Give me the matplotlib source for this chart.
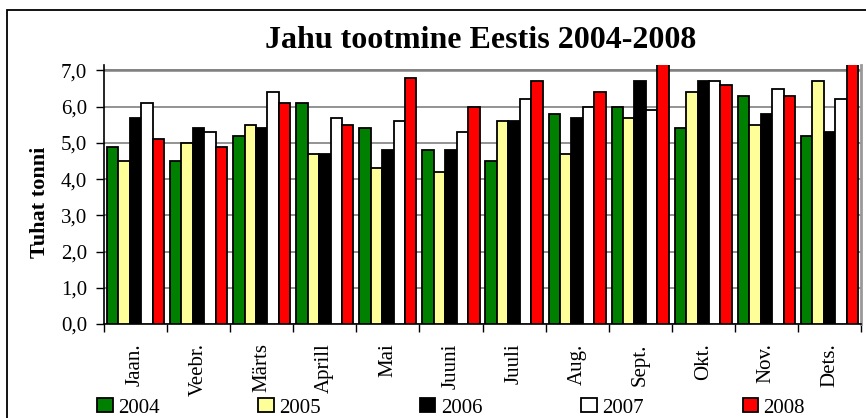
import numpy as np
import matplotlib.pyplot as plt
import matplotlib as mpl
from matplotlib.patches import Rectangle
from matplotlib.ticker import FuncFormatter

mpl.rcParams["font.family"] = "Liberation Serif"

months = ["Jaan.", "Veebr.", "Märts", "Aprill", "Mai", "Juuni",
          "Juuli", "Aug.", "Sept.", "Okt.", "Nov.", "Dets."]
years = ["2004", "2005", "2006", "2007", "2008"]
v2004 = [4.9, 4.5, 5.2, 6.1, 5.4, 4.8, 4.5, 5.8, 6.0, 5.4, 6.3, 5.2]
v2005 = [4.5, 5.0, 5.5, 4.7, 4.3, 4.2, 5.6, 4.7, 5.7, 6.4, 5.5, 6.7]
v2006 = [5.7, 5.4, 5.4, 4.7, 4.8, 4.8, 5.6, 5.7, 6.7, 6.7, 5.8, 5.3]
v2007 = [6.1, 5.3, 6.4, 5.7, 5.6, 5.3, 6.2, 6.0, 5.9, 6.7, 6.5, 6.2]
v2008 = [5.1, 4.9, 6.1, 5.5, 6.8, 6.0, 6.7, 6.4, 7.4, 6.6, 6.3, 7.4]
colors = ["#008000", "#FFFF99", "#000000", "#FFFFFF", "#FF0000"]

fig = plt.figure(figsize=(8.66, 4.18), dpi=100)
ax = fig.add_axes([104/866, 1-324/418, (861-104)/866, (324-65)/418])

x = np.arange(len(months))
w = 0.181
series = [v2004, v2005, v2006, v2007, v2008]
for i, vals in enumerate(series):
    ax.bar(x + (i-2)*w, vals, w, color=colors[i], edgecolor="black",
           linewidth=1.3, label=years[i], zorder=3)

ax.set_xlim(-0.5, 11.5)
ax.set_ylim(0, 7.15)
ax.set_yticks(np.arange(0, 8, 1))
ax.yaxis.set_major_formatter(FuncFormatter(lambda v, p: ("%.1f" % v).replace(".", ",")))
ax.grid(axis="y", color="#808080", linewidth=1.2, zorder=0)
ax.axhline(7.0, color="#808080", linewidth=1.8, zorder=1)

ax.set_xticks(np.arange(-0.5, 12, 1))
ax.set_xticklabels([])
ax.set_xticks(x, minor=True)
ax.set_xticklabels(months, minor=True, rotation=90, fontsize=15)
ax.tick_params(axis="x", which="minor", length=0, pad=14)
ax.tick_params(axis="x", which="major", length=6, width=1, direction="out")
ax.tick_params(axis="y", length=6, width=1, direction="out", labelsize=15, pad=6)

ax.spines["top"].set_visible(False)
ax.spines["right"].set_color("#999999")
ax.spines["right"].set_linewidth(2)
ax.spines["left"].set_linewidth(1.2)
ax.spines["bottom"].set_linewidth(1.2)

ax.set_ylabel("Tuhat tonni", fontsize=16, fontweight="bold")
ax.yaxis.set_label_coords(-54/757, 0.47)
fig.text(481/866, 1-41/418, "Jahu tootmine Eestis 2004-2008", ha="center", va="center",
         fontsize=23, fontweight="bold")

fig.legend(loc="center left", bbox_to_anchor=(97/866, 1-408/418), ncol=5, frameon=False,
           fontsize=15, handlelength=0.75, handleheight=0.65, handletextpad=0.25,
           columnspacing=4.75, borderaxespad=0, borderpad=0)

fig.patches.append(Rectangle((7/866, -0.5), 1.5, 1-10/418+0.5, transform=fig.transFigure,
                             fill=False, edgecolor="black", linewidth=1.3))

fig.savefig("out.png", dpi=100)
